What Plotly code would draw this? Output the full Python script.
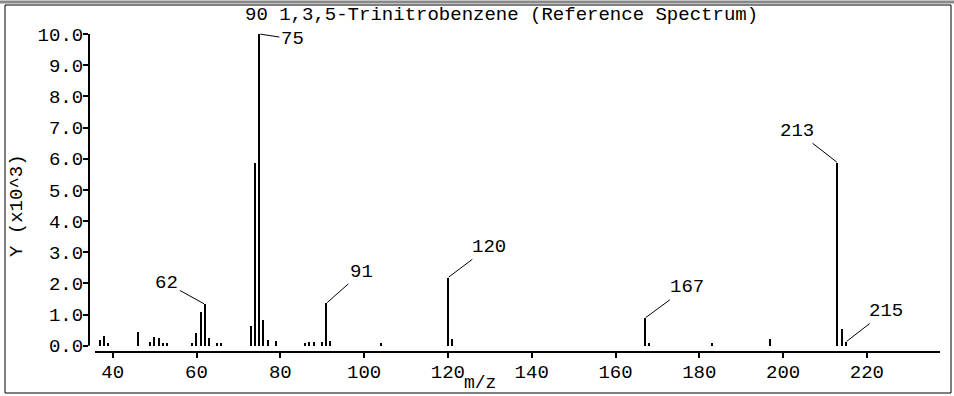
import plotly.graph_objects as go

# m/z values and intensities (x10^3)
mz = [37, 38, 39, 46, 49, 50, 51, 52, 53,
      59, 60, 61, 62, 63, 65, 66,
      73, 74, 75, 76, 77, 79,
      86, 87, 88, 90, 91, 92, 104,
      120, 121, 167, 168, 183, 197,
      213, 214, 215]
intensity = [0.17, 0.30, 0.10, 0.43, 0.12, 0.28, 0.24, 0.10, 0.08,
             0.10, 0.40, 1.07, 1.33, 0.24, 0.08, 0.10,
             0.64, 5.87, 10.0, 0.82, 0.19, 0.16,
             0.10, 0.13, 0.13, 0.13, 1.36, 0.16, 0.10,
             2.18, 0.23, 0.88, 0.10, 0.10, 0.22,
             5.87, 0.53, 0.12]

# labelled peaks and where their label sits (pixel offset from the peak top)
label_mz = [62, 75, 91, 120, 167, 213, 215]
label_dx = [-38, 33, 35, 41, 42, -41, 40]
label_dy = [-21, 5, -31, -31, -31, -32, -31]

title = "90 1,3,5-Trinitrobenzene (Reference Spectrum)"
y_ticks = [0, 1, 2, 3, 4, 5, 6, 7, 8, 9, 10]
x_ticks = [40, 60, 80, 100, 120, 140, 160, 180, 200, 220]

W, H = 954, 396
L, R, T, B = 89, 14, 34, 44
pw, ph = W - L - R, H - T - B

def px(x):
    return (x - L) / pw

def py(y):
    return (H - B - y) / ph

FONT = dict(family="Liberation Mono, DejaVu Sans Mono, monospace", size=19, color="black")

fig = go.Figure()
fig.add_trace(go.Bar(x=mz, y=intensity, width=0.32,
                     marker=dict(color="black", line=dict(width=0))))

annos = []
for m, dx, dy in zip(label_mz, label_dx, label_dy):
    v = intensity[mz.index(m)]
    annos.append(dict(x=m, y=v, xref="x", yref="y", text=str(m), showarrow=True,
                      arrowhead=0, arrowwidth=1, arrowcolor="black",
                      ax=dx, ay=dy, font=FONT, standoff=1))

annos.append(dict(x=px(501), y=py(15), xref="paper", yref="paper", text=title,
                  showarrow=False, font=FONT, xanchor="center", yanchor="middle"))
annos.append(dict(x=px(480), y=py(383), xref="paper", yref="paper", text="m/z",
                  showarrow=False, font=dict(FONT, size=18), xanchor="center",
                  yanchor="middle"))
annos.append(dict(x=px(17), y=py(206), xref="paper", yref="paper", text="Y (x10^3)",
                  showarrow=False, font=FONT, textangle=-90,
                  xanchor="center", yanchor="middle"))

shapes = [
    # outer frame
    dict(type="rect", xref="paper", yref="paper", x0=px(5), x1=px(951), y0=py(393), y1=py(5),
         line=dict(color="black", width=1)),
    dict(type="line", xref="paper", yref="paper", x0=px(0), x1=px(954), y0=py(2), y1=py(2),
         line=dict(color="#888888", width=3)),
    # axis lines
    dict(type="line", xref="paper", yref="paper", x0=px(95), x1=px(940), y0=0, y1=0,
         line=dict(color="black", width=2)),
    dict(type="line", xref="paper", yref="y", x0=0, x1=0, y0=0, y1=10,
         line=dict(color="black", width=2)),
]

fig.update_layout(
    width=W, height=H,
    margin=dict(l=L, r=R, t=T, b=B, pad=0),
    plot_bgcolor="white", paper_bgcolor="white",
    showlegend=False, bargap=0,
    annotations=annos, shapes=shapes,
    font=FONT,
    xaxis=dict(range=[34.34, 237.45], tickvals=x_ticks, ticks="outside", ticklen=5,
               tickcolor="black", tickwidth=2, showgrid=False, zeroline=False,
               showline=False, tickfont=FONT, ticklabelstandoff=-3),
    yaxis=dict(range=[-0.202, 10.0], tickvals=y_ticks, tickformat=".1f", ticks="outside",
               ticklen=5, tickcolor="black", tickwidth=2, showgrid=False, zeroline=False,
               showline=False, tickfont=FONT, ticklabelstandoff=-4),
)

# the page body has a default margin; drop it so the figure sits at the window corner
fig.write_html("out.html", config={"displayModeBar": False},
               post_script="document.body.style.margin='0px';")
